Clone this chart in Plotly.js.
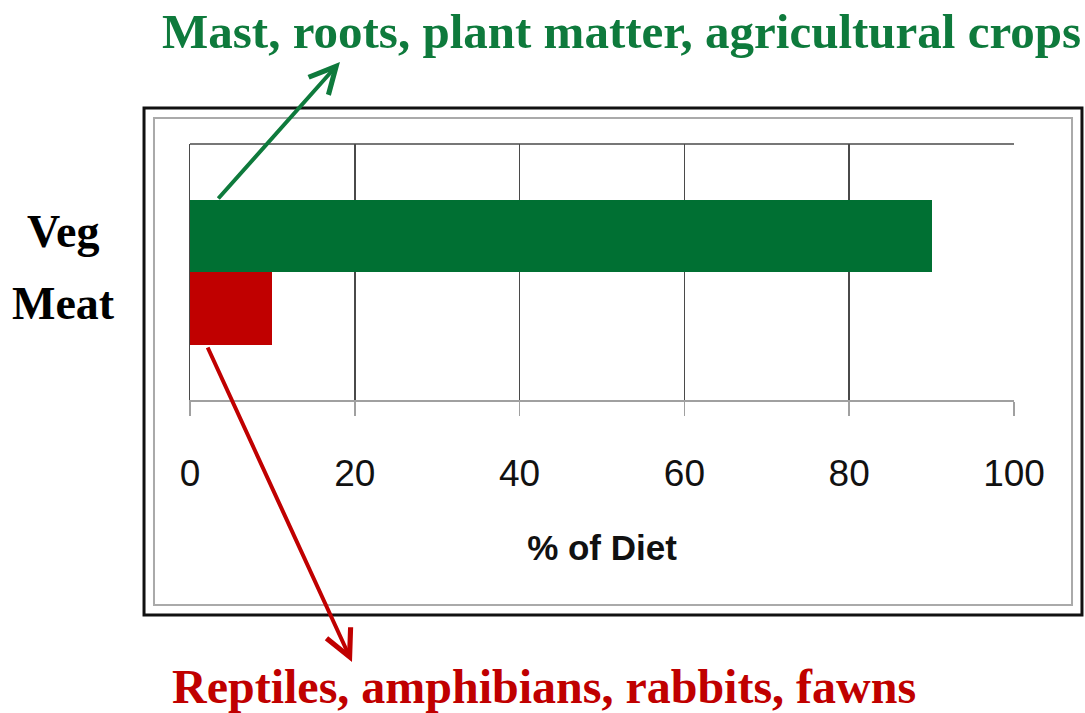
<!DOCTYPE html>
<html>
<head>
<meta charset="utf-8">
<script src="https://cdn.plot.ly/plotly-3.0.1.min.js"></script>
<style>html,body{margin:0;padding:0;background:#fff;}#chart{width:1085px;height:713px;}</style>
</head>
<body>
<div id="chart"></div>
<script>
const categories = ["Meat", "Veg"];
const percentOfDiet = [10, 90];
const barColors = ["#c00000", "#007033"];
const xTickValues = [0, 20, 40, 60, 80, 100];
const xTitle = "% of Diet";
const vegNote = "Mast, roots, plant matter, agricultural crops";
const meatNote = "Reptiles, amphibians, rabbits, fawns";

const serif = "'Liberation Serif', 'Times New Roman', serif";
const sans = "'Liberation Sans', Arial, sans-serif";

const trace = {
  type: "bar",
  orientation: "h",
  y: categories,
  x: percentOfDiet,
  width: 1,
  marker: {color: barColors, line: {width: 0}},
  hoverinfo: "skip"
};

const catAnnotations = categories.map(c => ({
  xref: "paper", yref: "y", x: -0.154, y: c, yshift: 5,
  text: "<b>" + c + "</b>", showarrow: false, xanchor: "center", yanchor: "middle",
  font: {family: serif, size: 46, color: "#000"}
}));

const layout = {
  width: 1085, height: 713,
  margin: {l: 190, r: 71, t: 144, b: 313},
  paper_bgcolor: "#fff", plot_bgcolor: "#fff",
  showlegend: false,
  bargap: 0,
  xaxis: {
    range: [0, 100], tickvals: xTickValues, ticktext: xTickValues.map(String),
    showgrid: true, gridcolor: "#4a4a4a", gridwidth: 1.5,
    zeroline: false, showline: true, linecolor: "#a0a0a0", linewidth: 1.5,
    ticks: "outside", ticklen: 14, tickcolor: "#a0a0a0", tickwidth: 1.5,
    ticklabelstandoff: 26,
    tickfont: {family: sans, size: 37, color: "#111"},
    title: {text: "<b>" + xTitle + "</b>", font: {family: sans, size: 35, color: "#111"}, standoff: 42},
    fixedrange: true
  },
  yaxis: {
    type: "category", categoryorder: "array", categoryarray: categories,
    range: [-1.262, 2.269],
    showgrid: false, zeroline: false, showline: true, linecolor: "#4a4a4a", linewidth: 1.5,
    showticklabels: false, ticks: "", fixedrange: true
  },
  shapes: [
    {type: "line", xref: "paper", yref: "paper", x0: 0, x1: 1, y0: 1, y1: 1, line: {color: "#4a4a4a", width: 1.5}},
    {type: "rect", xref: "paper", yref: "paper", x0: -0.0558, x1: 1.0825, y0: -0.8398, y1: 1.1406, line: {color: "#111", width: 3}},
    {type: "rect", xref: "paper", yref: "paper", x0: -0.0437, x1: 1.0704, y0: -0.8008, y1: 1.1016, line: {color: "#aaaaaa", width: 2}}
  ],
  annotations: catAnnotations.concat([
    {xref: "paper", yref: "paper", x: 0.5235, y: 1.4258, yshift: 3, text: "<b>" + vegNote + "</b>", showarrow: false,
     xanchor: "center", yanchor: "middle", font: {family: serif, size: 49, color: "#0e7a3c"}},
    {xref: "paper", yref: "paper", x: 0.4296, y: -1.1328, yshift: 3, text: "<b>" + meatNote + "</b>", showarrow: false,
     xanchor: "center", yanchor: "middle", font: {family: serif, size: 48, color: "#c00000"}},
    {xref: "paper", yref: "paper", x: 0.182, y: 1.3203, ax: -123, ay: 138, text: "", showarrow: true,
     arrowhead: 5, arrowsize: 1.3, arrowwidth: 4, arrowcolor: "#0e7a3c", standoff: 0, startstandoff: 0},
    {xref: "paper", yref: "paper", x: 0.1966, y: -1.0234, ax: -145, ay: -316, text: "", showarrow: true,
     arrowhead: 5, arrowsize: 1.3, arrowwidth: 4, arrowcolor: "#c00000", standoff: 0, startstandoff: 0}
  ])
};

Plotly.newPlot("chart", [trace], layout, {staticPlot: true, displayModeBar: false});
</script>
</body>
</html>
